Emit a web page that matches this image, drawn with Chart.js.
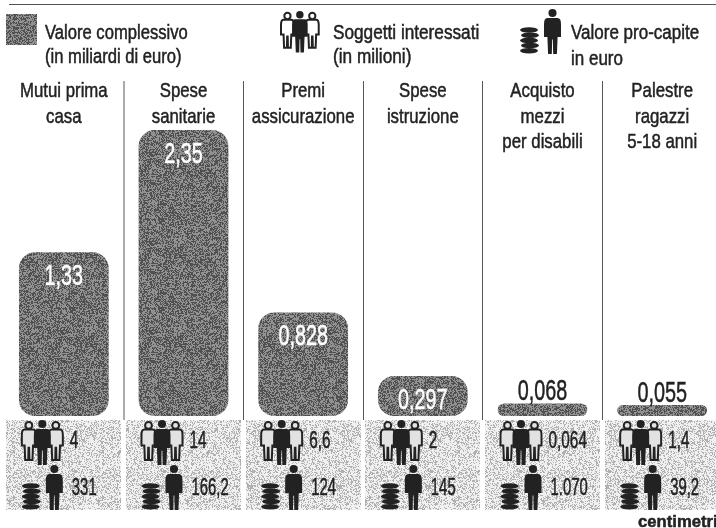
<!DOCTYPE html>
<html>
<head>
<meta charset="utf-8">
<script src="https://cdn.jsdelivr.net/npm/chart.js@4"></script>
<style>
  html, body { margin: 0; padding: 0; background: #fff; overflow: hidden; width: 716px; height: 528px; }
  canvas { position: absolute; left: 0; top: 0; }
</style>
</head>
<body>
<canvas id="chart" width="740" height="528"></canvas>
<script>
const categories = [
  ["Mutui prima", "casa"],
  ["Spese", "sanitarie"],
  ["Premi", "assicurazione"],
  ["Spese", "istruzione"],
  ["Acquisto", "mezzi", "per disabili"],
  ["Palestre", "ragazzi", "5-18 anni"]
];
const valori = [1.33, 2.35, 0.828, 0.297, 0.068, 0.055];
const soggetti = ["4", "14", "6,6", "2", "0,064", "1,4"];
const proCapite = ["331", "166,2", "124", "145", "1.070", "39,2"];

const FONT = '"Liberation Sans Narrow", "Liberation Sans", sans-serif';
const DARK = "#222";

// speckled fill, like the printed halftone of the original
function dither(low, high, mix) {
  const tile = document.createElement("canvas");
  tile.width = tile.height = 89;
  const c = tile.getContext("2d");
  let seed = 12345;
  for (let y = 0; y < 89; y++) {
    for (let x = 0; x < 89; x++) {
      seed = (seed * 1103515245 + 12345) & 0x7fffffff;
      c.fillStyle = (seed >> 16) % 100 < mix ? low : high;
      c.fillRect(x, y, 1, 1);
    }
  }
  return c.createPattern(tile, "repeat");
}

const ctxMain = document.getElementById("chart").getContext("2d");
const barFill = dither("#505050", "#929292", 50);
const panelFill = dither("#b0b0b0", "#f0f0f0", 35);

function label(c, str, x, y, size, color, align, squeeze, weight) {
  c.save();
  c.font = (weight || "normal") + " " + size + "px " + FONT;
  c.fillStyle = color;
  c.strokeStyle = color;
  c.lineWidth = 0.5;
  c.textBaseline = "alphabetic";
  c.textAlign = align || "left";
  c.translate(x, y);
  c.scale(squeeze || 0.83, 1);
  c.fillText(str, 0, 0);
  c.strokeText(str, 0, 0);
  c.restore();
}

function personPath(c, x, y, w, h) {
  const px = v => x + v * w;
  const py = v => y + v * h;
  c.beginPath();
  c.arc(px(0.5), py(0.09), h * 0.09, 0, Math.PI * 2);
  c.closePath();
  c.moveTo(px(0.2), py(0.2));
  c.lineTo(px(0.8), py(0.2));
  c.quadraticCurveTo(px(1), py(0.2), px(1), py(0.34));
  c.lineTo(px(1), py(0.62));
  c.lineTo(px(0.8), py(0.62));
  c.lineTo(px(0.76), py(1));
  c.lineTo(px(0.54), py(1));
  c.lineTo(px(0.52), py(0.68));
  c.lineTo(px(0.48), py(0.68));
  c.lineTo(px(0.46), py(1));
  c.lineTo(px(0.24), py(1));
  c.lineTo(px(0.2), py(0.62));
  c.lineTo(px(0), py(0.62));
  c.lineTo(px(0), py(0.34));
  c.quadraticCurveTo(px(0), py(0.2), px(0.2), py(0.2));
  c.closePath();
}

function drawPeople(c, x, y, k, fill) {
  [[0, 2, 14, 38], [27, 2, 14, 38]].forEach(p => {
    personPath(c, x + p[0] * k, y + p[1] * k, p[2] * k, p[3] * k);
    c.fillStyle = fill;
    c.strokeStyle = DARK;
    c.lineWidth = 2;
    c.fill();
    c.stroke();
  });
  personPath(c, x + 12 * k, y, 17 * k, 45 * k);
  c.fillStyle = DARK;
  c.fill();
}

function drawMoney(c, x, y) {
  personPath(c, x + 24, y, 17, 45);
  c.fillStyle = DARK;
  c.fill();
  for (let i = 0; i < 5; i++) {
    c.beginPath();
    c.ellipse(x + 9 + (i % 2), y + 21 + i * 5.2, 9, 2.8, 0, 0, Math.PI * 2);
    c.fillStyle = DARK;
    c.fill();
  }
}

const decorations = {
  id: "decorations",
  beforeDraw(chart) {
    const c = chart.ctx;
    // header rule
    c.fillStyle = "#555";
    c.fillRect(9, 4, 707, 1);

    // legend
    c.fillStyle = barFill;
    c.fillRect(6, 14, 31, 31);
    label(c, "Valore complessivo", 45, 39, 20, DARK, "left", 0.83);
    label(c, "(in miliardi di euro)", 45, 63, 20, DARK, "left", 0.83);
    drawPeople(c, 281, 11, 0.92, "#fff");
    label(c, "Soggetti interessati", 333, 39, 20, DARK, "left", 0.86);
    label(c, "(in milioni)", 333, 63, 20, DARK, "left", 0.86);
    drawMoney(c, 520, 9);
    label(c, "Valore pro-capite", 571, 39, 20, DARK, "left", 0.85);
    label(c, "in euro", 571, 65, 20, DARK, "left", 0.85);

    // panels under each bar
    const x = chart.scales.x;
    categories.forEach((lines, i) => {
      const mid = x.getPixelForValue(i);
      c.fillStyle = panelFill;
      c.fillRect(Math.round(mid - 57.5), 420, 115, 90);
      drawPeople(c, mid - 42, 420, 1, "#e2e2e2");
      drawMoney(c, mid - 42, 465);
      label(c, soggetti[i], mid + 6, 448, 24, DARK, "left", 0.64);
      label(c, proCapite[i], mid + 8, 495, 24, DARK, "left", 0.62);
      lines.forEach((line, n) => {
        label(c, line, mid, 97 + n * 25.5, 21, DARK, "center", 0.8);
      });
    });

    // source logo
    label(c, "centimetri", 638, 527, 17, DARK, "left", 0.98, "bold");
  },
  afterDatasetsDraw(chart) {
    const c = chart.ctx;
    chart.getDatasetMeta(0).data.forEach((bar, i) => {
      const text = String(valori[i]).replace(".", ",");
      if (valori[i] > 0.2) {
        label(c, text, bar.x, bar.y + 33, 30, "#fff", "center", 0.66);
      } else {
        label(c, text, bar.x, bar.y - 3, 30, DARK, "center", 0.66);
      }
    });
  }
};

new Chart(ctxMain, {
  type: "bar",
  data: {
    labels: categories.map(lines => lines.join(" ")),
    datasets: [{
      data: valori,
      base: -0.037,
      backgroundColor: barFill,
      borderWidth: 0,
      borderRadius: 16,
      borderSkipped: false,
      inflateAmount: 0,
      barPercentage: 0.75,
      categoryPercentage: 1
    }]
  },
  options: {
    responsive: false,
    animation: false,
    events: [],
    layout: { padding: { left: 4, right: 18, top: 81, bottom: 108 } },
    plugins: { legend: { display: false }, tooltip: { enabled: false } },
    scales: {
      x: {
        offset: true,
        border: { display: false },
        ticks: { display: false },
        grid: {
          offset: true,
          tickLength: 4,
          color: ctx => {
            if (ctx.index === 0 || ctx.index === categories.length) return "rgba(0,0,0,0)";
            return ctx.index === 1 ? "#aaa" : "#555";
          },
          lineWidth: ctx => ctx.index === 1 ? 2 : 1
        }
      },
      y: { display: false, min: -0.037, max: 2.76 }
    }
  },
  plugins: [decorations]
});
</script>
</body>
</html>
